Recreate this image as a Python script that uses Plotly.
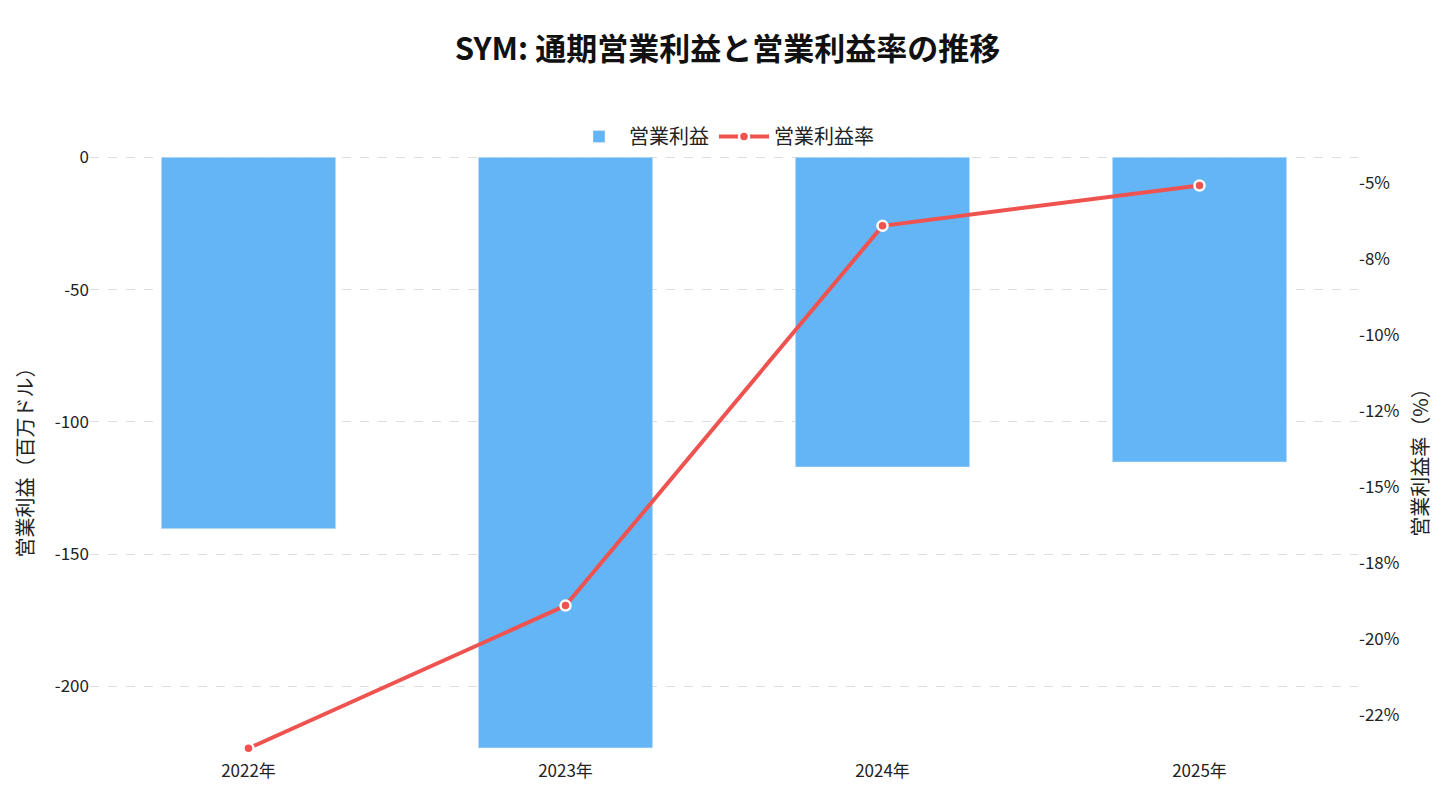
import plotly.graph_objects as go

years = ["2022年", "2023年", "2024年", "2025年"]
op_income = [-140.4, -223.3, -117.1, -115.2]
op_margin = [-23.6, -18.9, -6.4, -5.07]
income_ticks = [0, -50, -100, -150, -200]
income_labels = ["0", "-50", "-100", "-150", "-200"]
margin_ticks = [-5, -7.5, -10, -12.5, -15, -17.5, -20, -22.5]
margin_labels = ["-5%", "-8%", "-10%", "-12%", "-15%", "-18%", "-20%", "-22%"]

fig = go.Figure()
fig.add_trace(go.Bar(x=years, y=op_income, name="営業利益", marker_color="#64B5F6", width=0.55))
fig.add_trace(go.Scatter(
    x=years, y=op_margin, name="営業利益率", yaxis="y2", mode="lines+markers",
    line=dict(color="#EF5350", width=4),
    marker=dict(color="#EF5350", size=10, line=dict(color="white", width=2.5)),
))

fig.update_layout(
    width=1439, height=798,
    font=dict(family="Noto Sans CJK JP", size=17, color="#222"),
    title=dict(text="<b>SYM: 通期営業利益と営業利益率の推移</b>", x=0.5, y=0.962,
               font=dict(size=31, color="#111")),
    plot_bgcolor="white", paper_bgcolor="white",
    margin=dict(l=82, r=89, t=148, b=47),
    legend=dict(orientation="h", x=0.5, xanchor="center", y=1.0, yanchor="bottom",
                font=dict(size=20), itemwidth=50, tracegroupgap=30),
    xaxis=dict(showgrid=False, ticks="", tickfont=dict(size=17)),
    yaxis=dict(title=dict(text="営業利益（百万ドル）", font=dict(size=20)),
               range=[-227.5, 0.5], tickvals=income_ticks, ticktext=income_labels,
               gridcolor="#dddddd", griddash="dash", zeroline=False),
    yaxis2=dict(title=dict(text="営業利益率（%）", font=dict(size=20)),
                overlaying="y", side="right", range=[-23.95, -4.1],
                tickvals=margin_ticks, ticktext=margin_labels, showgrid=False, zeroline=False),
)

fig.write_html("out.html")
